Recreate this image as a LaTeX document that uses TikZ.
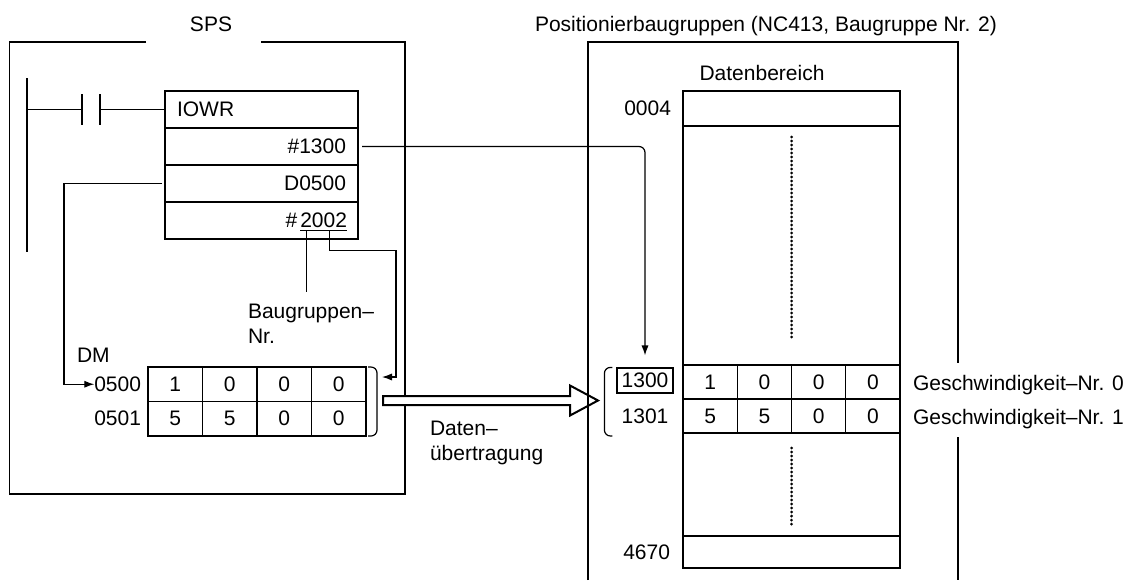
\documentclass[tikz,border=0pt]{standalone}
\usepackage{fontspec}
\setmainfont{Liberation Sans}
\usetikzlibrary{arrows.meta, positioning, calc}
\tikzset{
	wire/.style={line width=0.6pt},
	conn/.style={-{Latex[length=5pt, width=3.6pt]}, line width=0.6pt},
	rowbox/.style={rectangle, draw, line width=0.6pt, minimum height=18.5pt, text width=84.5pt, inner xsep=6pt, inner ysep=0pt, outer sep=0pt},
	cell/.style={rectangle, draw, line width=0.6pt, minimum width=27.25pt, minimum height=17.25pt, inner sep=0pt, outer sep=0pt},
	dcell/.style={cell, minimum width=27.125pt, minimum height=17pt},
	slot/.style={rectangle, draw, line width=0.6pt, minimum width=108.5pt, inner sep=0pt, outer sep=0pt},
	lbl/.style={inner sep=0pt, outer sep=0pt},
	digit/.style={inner sep=0pt, outer sep=0pt},
	hollow/.style={draw, fill=white, line width=1pt, line join=miter},
	dots/.style={line width=1.5pt, line cap=round, dash pattern=on 0pt off 2pt},
}

\begin{document}
\begin{tikzpicture}[x=0.5pt, y=-0.5pt, font=\fontsize{10.5pt}{12.5pt}\selectfont]
	\useasboundingbox (0,0) rectangle (1127,580);
	% SPS
	\node[lbl, anchor=base] (sps) at (211,31.5) {SPS};
	\draw[wire] (146,42) -| (9.5,494) -| (405,42) -- (261,42);
	\draw[wire] (27,78) -- (27,252);
	\node[rowbox, align=left] (r1) at (261.5,109.5) {IOWR};
	\node[rowbox, align=right, below=0pt of r1] (r2) {\#1300};
	\node[rowbox, align=right, below=0pt of r2] (r3) {D0500};
	\node[rowbox, below=0pt of r3] (r4) {};
	\node[digit, anchor=east] (m002) at ([xshift=-5.5pt]r4.east) {002};
	\node[digit, left=0pt of m002] (m2) {2};
	\node[digit, left=1.5pt of m2] (mhash) {\#};
	\draw[wire] (27,109.5) -- (82,109.5) (82,94) -- (82,125) (100,94) -- (100,125);
	\draw[wire] (100,109.5) -- (r1.west);
	\draw[wire] ([yshift=-1.2pt]m2.south west) -- ([yshift=-1.2pt]m2.south east);
	\draw[wire] ([yshift=-1.2pt]m002.south west) -- ([yshift=-1.2pt]m002.south east);
	\node[lbl, align=left, anchor=north west] (bgnr) at (248,304) {Baugruppen–\\Nr.};
	\draw[wire, shorten >=6pt] ([yshift=-1.2pt]m2.south) -- (m2.south |- bgnr.north);
	% DM table
	\node[lbl, anchor=base west] (dm) at (77,362) {DM};
	\node[cell] (d11) at (175.25,384.25) {1};
	\node[cell, right=0pt of d11] (d12) {0};
	\node[cell, right=0pt of d12] (d13) {0};
	\node[cell, right=0pt of d13] (d14) {0};
	\node[cell, below=0pt of d11] (d21) {5};
	\node[cell, right=0pt of d21] (d22) {5};
	\node[cell, right=0pt of d22] (d23) {0};
	\node[cell, right=0pt of d23] (d24) {0};
	\node[lbl, left=3.5pt of d11] (a0500) {0500};
	\node[lbl, left=3.5pt of d21] (a0501) {0501};
	\draw[wire, rounded corners=3pt] ([xshift=1pt]d14.north east) -| ([xshift=5.5pt]d24.south east) -- ([xshift=1pt]d24.south east);
	\coordinate (dmin) at ([xshift=8pt, yshift=-5pt]d14.north east);
	\draw[conn] ([xshift=-1.5pt]r3.west) -- ++(-98,0) |- (a0500.west);
	\draw[conn] ([yshift=-1.2pt]m002.south) -- ++(0,20) -| ([xshift=7pt]dmin) -- (dmin);
	% transfer
	\coordinate (xfer0) at (383,400.5);
	\coordinate (xfer1) at (598,400.5);
	\draw[hollow] ($(xfer0)+(0,-4.5)$) -- ($(xfer1)+(-28,-4.5)$) -- ($(xfer1)+(-28,-15)$) -- (xfer1)
		-- ($(xfer1)+(-28,15)$) -- ($(xfer1)+(-28,4.5)$) -- ($(xfer0)+(0,4.5)$) -- cycle;
	\node[lbl, align=left, anchor=north west] (xferlbl) at (430,421) {Daten–\\übertragung};
	% Positionierbaugruppe
	\node[lbl, anchor=base] (pos) at (766,31.5) {Positionierbaugruppen (NC413, Baugruppe Nr. 2)};
	\draw[wire] (588,580) |- (958,42) -- (958,363) (958,437) -- (958,580);
	\node[lbl, anchor=base] (dber) at (762,80.5) {Datenbereich};
	\node[slot, minimum height=17.5pt] (t0004) at (791.5,108.5) {};
	\node[slot, minimum height=16pt] (t4670) at (791.5,552) {};
	\draw[wire] (t0004.south west) -- (t4670.north west) (t0004.south east) -- (t4670.north east);
	\node[dcell] (e11) at (710.125,382) {1};
	\node[dcell, right=0pt of e11] (e12) {0};
	\node[dcell, right=0pt of e12] (e13) {0};
	\node[dcell, right=0pt of e13] (e14) {0};
	\node[dcell, below=0pt of e11] (e21) {5};
	\node[dcell, right=0pt of e21] (e22) {5};
	\node[dcell, right=0pt of e22] (e23) {0};
	\node[dcell, right=0pt of e23] (e24) {0};
	\node[lbl, left=6pt of t0004] (a0004) {0004};
	\node[lbl, left=6.5pt of t4670] (a4670) {4670};
	\node[draw, wire, minimum width=28pt, minimum height=12.5pt, inner sep=0pt] (b1300) at (645,380.5) {1300};
	\node[lbl] (a1301) at (b1300 |- e21) {1301};
	\draw[wire, rounded corners=3pt] ($(b1300.north west)+(-4,0)$) -| ($(b1300.west |- e21.south)+(-12,3)$) -- ++(8,0);
	\draw[conn, rounded corners=3pt, shorten >=6pt] ([xshift=2pt]r2.east) -| (b1300.north);
	\draw[dots] ($(t0004.south -| e12.east)+(0,11)$) -- ($(e12.north east)+(0,-25)$);
	\draw[dots] ($(e22.south east)+(0,15)$) -- ($(t4670.north -| e22.east)+(0,-9)$);
	\node[lbl, anchor=base west] (v0) at ($(e14.east)+(13,8)$) {Geschwindigkeit–Nr. 0};
	\node[lbl, anchor=base west] (v1) at ($(e24.east)+(13,8)$) {Geschwindigkeit–Nr. 1};
\end{tikzpicture}
\end{document}
